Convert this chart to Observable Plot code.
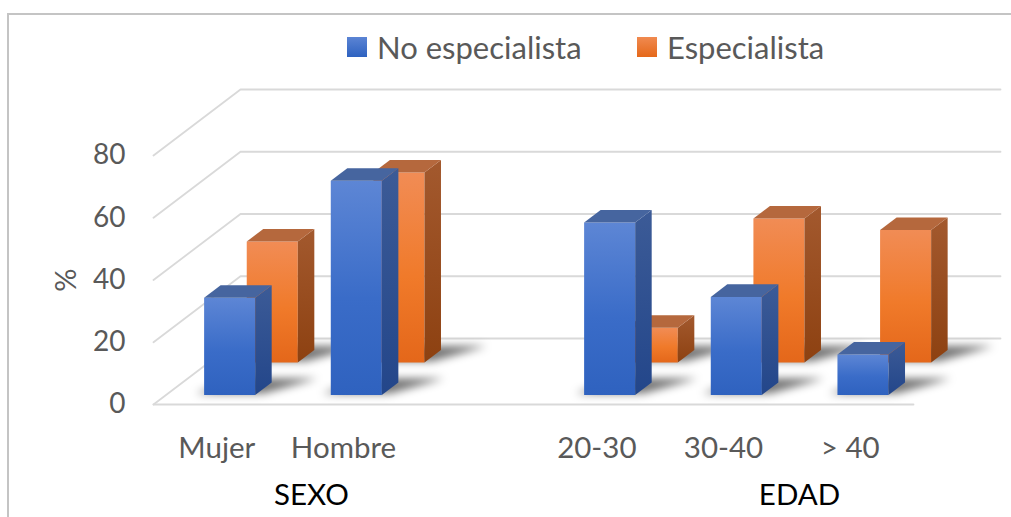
<!DOCTYPE html>
<html>
<head>
<meta charset="utf-8">
<script src="https://cdn.jsdelivr.net/npm/d3@7"></script>
<script src="https://cdn.jsdelivr.net/npm/@observablehq/plot@0.6"></script>
<style>
  body { margin: 0; background: #fff; font-family: Lato, "Open Sans", sans-serif; }
  #wrap { position: relative; width: 1011px; height: 517px; overflow: hidden; background: #fff; }
  #frame { position: absolute; left: 7px; top: 13px; width: 1100px; height: 700px; border: 2px solid #c4c4c4; pointer-events: none; box-sizing: border-box; }
  #legend { position: relative; height: 72px; }
  .item { position: absolute; top: 27px; display: flex; align-items: center; height: 40px; font-size: 31px; color: #595959; white-space: nowrap; }
  .sw { width: 20px; height: 20px; margin-right: 10px; }
  svg { display: block; }
</style>
</head>
<body>
<div id="wrap">
  <div id="legend"></div>
  <div id="chart"></div>
  <div id="frame"></div>
</div>
<script>
// ---------- data ----------
const categories = ["Mujer", "Hombre", "20-30", "30-40", "> 40"];
const categoryGroup = ["SEXO", "SEXO", "EDAD", "EDAD", "EDAD"];
const groupNames = ["SEXO", "EDAD"];
const seriesNames = ["No especialista", "Especialista"];
const noEspecialista = [31.2, 68.8, 55.4, 31.5, 13.0];
const especialista = [38.9, 61.1, 11.2, 46.3, 42.6];
const yTicks = [0, 20, 40, 60, 80];
const yLabel = "%";

// ---------- layout (code, not data) ----------
const DX = 87 / 126.67;      // depth offset in slot units
const DY = 66 / 3.1125;      // depth offset in value units
const rows = [[0.145, 0.335], [0.635, 0.825]]; // depth range per series
const barL = 0.30, barR = 0.703;
const groupLabelX = {SEXO: 1.247, EDAD: 5.1};

// slot positions with a gap between groups
const slots = [];
{
  let s = 0;
  categories.forEach((c, i) => {
    if (i > 0 && categoryGroup[i] !== categoryGroup[i - 1]) s += 1;
    slots.push(s);
    s += 1;
  });
}
const nSlots = slots[slots.length - 1] + 1;
const P = (s, v, d) => ({x: s + d * DX, y: v + d * DY});

const seriesValues = [noEspecialista, especialista];
const faces = []; // {series, face, id, x, y}
seriesValues.forEach((vals, k) => {
  const [d0, d1] = rows[k];
  vals.forEach((v, i) => {
    const x0 = slots[i] + barL, x1 = slots[i] + barR;
    const id = k + "-" + i;
    const add = (face, pts) => pts.forEach(p => faces.push({series: k, face, id: id + face, ...p}));
    add("shadow", [P(x0 - 0.08, 0, d0 + 0.02), P(x1 + 0.05, 0, d0 + 0.02), P(x1 + 0.32, 0, d1 + 0.06), P(x0 + 0.1, 0, d1 + 0.06)]);
    add("front", [P(x0, 0, d0), P(x1, 0, d0), P(x1, v, d0), P(x0, v, d0)]);
    add("side", [P(x1, 0, d0), P(x1, 0, d1), P(x1, v, d1), P(x1, v, d0)]);
    add("top", [P(x0, v, d0), P(x1, v, d0), P(x1, v, d1), P(x0, v, d1)]);
  });
});

// grid: left wall diagonal + back wall horizontal for each tick
const grid = [];
yTicks.forEach(t => {
  grid.push({id: "g" + t, ...P(0, t, 0)});
  grid.push({id: "g" + t, ...P(0, t, 1)});
  grid.push({id: "g" + t, ...P(nSlots, t, 1)});
});
const floorFront = [{id: "f", ...P(0, 0, 0)}, {id: "f", ...P(nSlots, 0, 0)}];

const catRows = categories.map((c, i) => ({c, x: slots[i] + 0.5}));
const groupRows = groupNames.map(g => ({g, x: groupLabelX[g]}));

// ---------- legend ----------
const legend = document.getElementById("legend");
const legendPos = [347, 637];
const legendFill = ["linear-gradient(#5b84d4,#2e62c0)", "linear-gradient(#f08a50,#e5681a)"];
seriesNames.forEach((n, k) => {
  const it = document.createElement("div");
  it.className = "item";
  it.style.left = legendPos[k] + "px";
  const sw = document.createElement("div");
  sw.className = "sw";
  sw.style.background = legendFill[k];
  const tx = document.createElement("span");
  tx.textContent = n;
  it.appendChild(sw); it.appendChild(tx);
  legend.appendChild(it);
});

// ---------- plot ----------
const fills = [
  {front: "url(#bFront)", side: "url(#bSide)", top: "#46659f"},
  {front: "url(#oFront)", side: "url(#oSide)", top: "#b5683d"}
];
const marks = [
  Plot.line(grid, {x: "x", y: "y", z: "id", stroke: "#d9d9d9", strokeWidth: 1.8}),
  Plot.line(floorFront, {x: "x", y: "y", z: "id", stroke: "#d9d9d9", strokeWidth: 1.8})
];
[1, 0].forEach(k => {
  marks.push(Plot.line(faces.filter(f => f.series === k && f.face === "shadow"),
    {x: "x", y: "y", z: "id", fill: "#000", fillOpacity: 0.55, stroke: "none", curve: "linear-closed", ariaDescription: "shadow"}));
  ["front", "side", "top"].forEach(face => {
    marks.push(Plot.line(faces.filter(f => f.series === k && f.face === face),
      {x: "x", y: "y", z: "id", fill: fills[k][face], stroke: "none", curve: "linear-closed"}));
  });
});
marks.push(
  Plot.text(yTicks, {x: () => 0, y: d => d, text: d => String(d), textAnchor: "end", dx: -28, fontSize: 28, fill: "#595959"}),
  Plot.text([yLabel], {x: () => 0, y: () => 40, text: d => d, dx: -87, rotate: -90, fontSize: 29, fill: "#595959"}),
  Plot.text(catRows, {x: "x", y: () => 0, text: "c", dy: 44, fontSize: 29.5, fill: "#595959"}),
  Plot.text(groupRows, {x: "x", y: () => 0, text: "g", dy: 91, fontSize: 29.5, fill: "#000"})
);

const chart = Plot.plot({
  width: 1011,
  height: 445,
  marginLeft: 153,
  marginRight: 11,
  marginTop: 20.75,
  marginBottom: 113,
  x: {type: "linear", domain: [0, nSlots + DX], axis: null},
  y: {type: "linear", domain: [0, 100], axis: null},
  style: {fontFamily: "Lato, 'Open Sans', sans-serif", background: "transparent", overflow: "visible"},
  marks
});

const svg = d3.select(chart);
const defs = svg.insert("defs", ":first-child");
function grad(id, stops, horizontal) {
  const g = defs.append("linearGradient").attr("id", id)
    .attr("x1", 0).attr("y1", 0).attr("x2", horizontal ? 1 : 0).attr("y2", horizontal ? 0 : 1);
  stops.forEach(([o, c]) => g.append("stop").attr("offset", o).attr("stop-color", c));
}
grad("bFront", [[0, "#5d86d5"], [0.55, "#3a6cc8"], [1, "#2f62bf"]]);
grad("bSide", [[0, "#3c5b97"], [1, "#23468a"]]);
grad("oFront", [[0, "#f18c55"], [0.55, "#f07a2a"], [1, "#e4671a"]]);
grad("oSide", [[0, "#a3592e"], [1, "#8d4111"]]);
const f = defs.append("filter").attr("id", "blur")
  .attr("x", "-100%").attr("y", "-300%").attr("width", "300%").attr("height", "700%");
f.append("feGaussianBlur").attr("stdDeviation", 4.5);
svg.selectAll("g[aria-description='shadow']").attr("filter", "url(#blur)");

document.getElementById("chart").appendChild(chart);
</script>
</body>
</html>
